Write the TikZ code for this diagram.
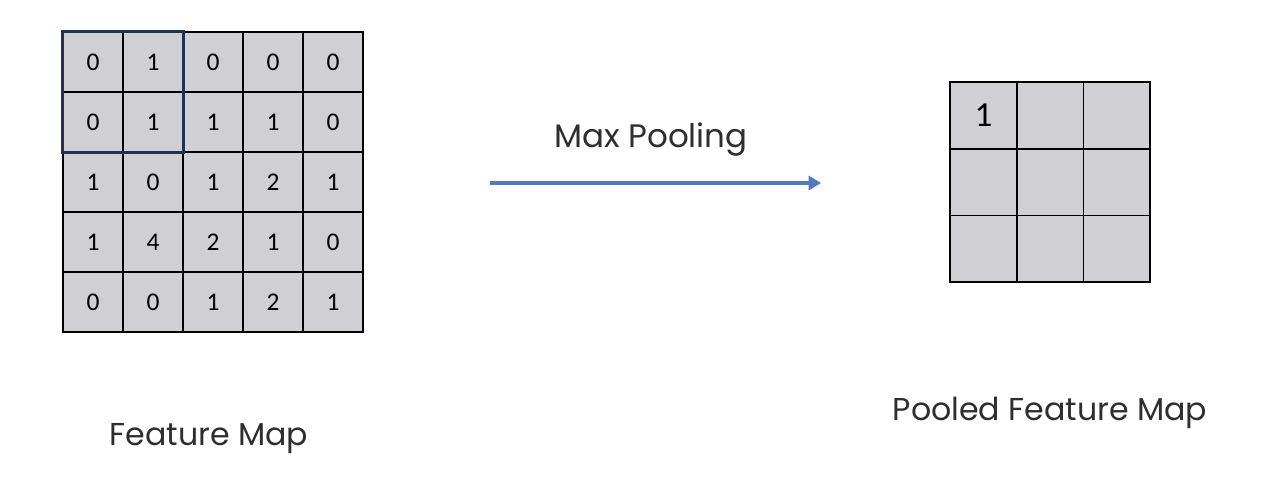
\documentclass[tikz,border=0pt]{standalone}
\usepackage{fontspec}
\setmainfont{Poppins}
\newfontfamily\cellfont{Carlito}
\usetikzlibrary{arrows.meta}
\definecolor{cellgray}{RGB}{208,207,212}
\definecolor{poolblue}{RGB}{84,122,190}
\definecolor{windownavy}{RGB}{30,50,85}
\tikzset{
  cell/.style={draw=black, line width=1pt, fill=cellgray, minimum size=1.2cm, inner sep=0pt, font=\cellfont\fontsize{14.5}{14.5}\selectfont},
  poolcell/.style={cell, minimum size=1.334cm},
  maplabel/.style={anchor=base, text=black!82, font=\fontsize{18}{18}\selectfont}
}
\begin{document}
\begin{tikzpicture}[x=0.02cm, y=-0.02cm]
  \useasboundingbox (0,0) rectangle (1282,484);
  \foreach \vals [count=\r from 0] in {{0,1,0,0,0},{0,1,1,1,0},{1,0,1,2,1},{1,4,2,1,0},{0,0,1,2,1}}
    \foreach \v [count=\c from 0] in \vals
      \node[cell] (f-\r-\c) at (93+60*\c, 62+60*\r) {\v};
  \draw[windownavy, line width=1.7pt] (f-0-0.north west) rectangle (f-1-1.south east);

  \foreach \r in {0,1,2}
    \foreach \c in {0,1,2}
      \node[poolcell] (p-\r-\c) at (983.5+66.7*\c, 115.5+66.7*\r) {};
  \node[font=\cellfont\fontsize{20}{20}\selectfont] (one) at (p-0-0) {1};

  \coordinate (from) at (490,183);
  \coordinate (to) at (821,183);
  \draw[poolblue, line width=2pt, -{Triangle[length=7pt, width=8pt]}] (from) -- (to);
  \node[maplabel, font=\fontsize{18.5}{18.5}\selectfont] (maxpool) at (651,147) {Max Pooling};

  \node[maplabel] (featmap) at (209,445) {Feature Map};
  \node[maplabel] (poolmap) at (1050,420) {Pooled Feature Map};
\end{tikzpicture}
\end{document}
